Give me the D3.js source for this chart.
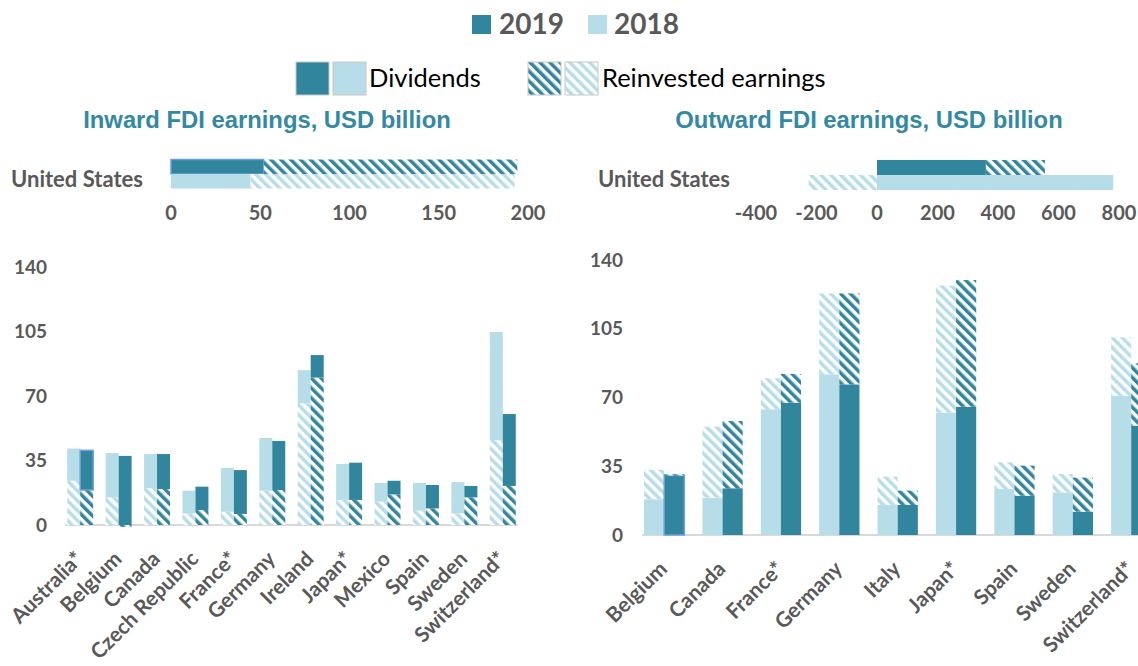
<!DOCTYPE html>
<html>
<head>
<meta charset="utf-8">
<script src="https://cdn.jsdelivr.net/npm/d3@7"></script>
<style>
    body { margin: 0; background: #fff; }
    svg { display: block; }
    .lbl { font-family: Lato, "Liberation Sans", sans-serif; font-weight: bold; fill: #595959; }
    .title { font-family: "Liberation Sans", Arial, sans-serif; font-weight: bold; fill: #3389a3; }
</style>
</head>
<body>
<div id="chart"></div>
<script>
// Données
const years = ["2018", "2019"];

const inCountries = ["Australia*", "Belgium", "Canada", "Czech Republic", "France*", "Germany",
    "Ireland", "Japan*", "Mexico", "Spain", "Sweden", "Switzerland*"];
const inDiv2018   = [17.5, 24, 18.5, 12.3, 23.7, 28.6, 18, 19.5, 10.1, 15, 17, 58.7];
const inReinv2018 = [24, 15, 20, 6.3, 7.2, 18.6, 66, 13.6, 12.7, 7.8, 6.3, 46];
const inDiv2019   = [21.5, 37.5, 19, 12.7, 23.8, 26.6, 12.2, 20.2, 7.4, 12.7, 6.2, 39];
const inReinv2019 = [19, -1, 19.5, 8.1, 6, 19, 80, 13.6, 16.6, 9, 15, 21.2];

const outCountries = ["Belgium", "Canada", "France*", "Germany", "Italy", "Japan*", "Spain",
    "Sweden", "Switzerland*"];
const outDiv2018   = [18.2, 19, 64, 81.8, 15.3, 62.3, 23.4, 21.7, 70.9];
const outReinv2018 = [15, 36.2, 15.8, 41.2, 14.4, 64.7, 13.6, 9.3, 29.7];
const outDiv2019   = [30.3, 23.8, 67.4, 76.7, 15.3, 65.3, 20, 11.9, 55.7];
const outReinv2019 = [0.6, 34.2, 14.6, 46.3, 7.3, 64.5, 15.3, 17.3, 31.7];

// United States (échelle séparée)
const usYears = ["2019", "2018"];
const usInDiv = [52, 44.5];
const usInReinv = [142, 148];
const usOutDiv = [360, 781];
const usOutReinv = [195, -226];

const columnTicks = [0, 35, 70, 105, 140];
const usInTicks = [0, 50, 100, 150, 200];
const usOutTicks = [-400, -200, 0, 200, 400, 600, 800];

// Configuration
const width = 1138;
const height = 666;
const colDark = "#31859c";
const colLight = "#b7dde8";
const selStroke = "#6a9fdc";

const svg = d3.select("#chart").append("svg")
    .attr("width", width)
    .attr("height", height);

// Motifs hachurés
const defs = svg.append("defs");
function hatch(id, color) {
    const p = defs.append("pattern")
        .attr("id", id)
        .attr("patternUnits", "userSpaceOnUse")
        .attr("width", 7).attr("height", 7)
        .attr("patternTransform", "rotate(-45)");
    p.append("rect").attr("width", 7).attr("height", 7).attr("fill", "#fff");
    p.append("rect").attr("width", 3.5).attr("height", 7).attr("fill", color);
}
hatch("hatch2019", colDark);
hatch("hatch2018", colLight);

function fillFor(year, key) {
    if (key === "div") return year === "2019" ? colDark : colLight;
    return `url(#hatch${year})`;
}

// Légende
const legend = svg.append("g");
[["2019", colDark, 472, 499], ["2018", colLight, 588, 614]].forEach(([yr, c, sx, tx]) => {
    legend.append("rect").attr("x", sx).attr("y", 15).attr("width", 19).attr("height", 19).attr("fill", c);
    legend.append("text").attr("class", "lbl").attr("x", tx).attr("y", 34)
        .style("font-size", "28px").text(yr);
});
const sw = [[296, colDark], [333, colLight], [528, "url(#hatch2019)"], [565, "url(#hatch2018)"]];
sw.forEach(([sx, f]) => {
    legend.append("rect").attr("x", sx).attr("y", 62).attr("width", 33).attr("height", 33)
        .attr("fill", f).attr("stroke", "#c8c8c8").attr("stroke-width", 1);
});
legend.append("text").attr("x", 369).attr("y", 87)
    .style("font-family", "Lato, 'Liberation Sans', sans-serif").style("font-size", "25.5px")
    .attr("fill", "#000").text("Dividends");
legend.append("text").attr("x", 602).attr("y", 87)
    .style("font-family", "Lato, 'Liberation Sans', sans-serif").style("font-size", "25.5px")
    .attr("fill", "#000").text("Reinvested earnings");

// Titres
svg.append("text").attr("class", "title").attr("x", 267).attr("y", 128)
    .attr("text-anchor", "middle").style("font-size", "23.8px").text("Inward FDI earnings, USD billion");
svg.append("text").attr("class", "title").attr("x", 869).attr("y", 128)
    .attr("text-anchor", "middle").style("font-size", "23.8px").text("Outward FDI earnings, USD billion");

// Barres horizontales United States
function drawUS(cfg) {
    const x = d3.scaleLinear().domain(cfg.domain).range(cfg.range);
    const yb = d3.scaleBand().domain(usYears).range(cfg.yRange);
    const g = svg.append("g");

    usYears.forEach((yr, i) => {
        const rows = [{ div: cfg.div[i], reinv: cfg.reinv[i] }];
        const series = d3.stack().keys(["div", "reinv"]).offset(d3.stackOffsetDiverging)(rows);
        series.forEach(s => {
            g.selectAll(null).data(s).join("rect")
                .attr("x", d => x(Math.min(d[0], d[1])))
                .attr("width", d => Math.abs(x(d[1]) - x(d[0])))
                .attr("y", yb(yr))
                .attr("height", yb.bandwidth())
                .attr("fill", fillFor(yr, s.key))
                .attr("stroke", cfg.outline && cfg.outline === yr + s.key ? selStroke : null)
                .attr("stroke-width", 1.5);
        });
    });

    g.selectAll(".tk").data(cfg.ticks).join("text")
        .attr("class", "lbl tk")
        .attr("x", d => x(d)).attr("y", cfg.tickY)
        .attr("text-anchor", "middle")
        .style("font-size", "20px")
        .text(d => d);

    g.append("text").attr("class", "lbl")
        .attr("x", cfg.labelX).attr("y", 187)
        .style("font-size", "22px")
        .text("United States");
}

drawUS({
    domain: [0, 200], range: [171, 528], yRange: [159.5, 188.5],
    div: usInDiv, reinv: usInReinv, ticks: usInTicks, tickY: 220, labelX: 11, outline: "2019div"
});
drawUS({
    domain: [-400, 800], range: [756, 1119], yRange: [160, 190],
    div: usOutDiv, reinv: usOutReinv, ticks: usOutTicks, tickY: 220, labelX: 598
});

// Colonnes empilées
function drawColumns(cfg) {
    const x0 = d3.scaleBand().domain(cfg.countries).range(cfg.xRange);
    const x1 = d3.scaleBand().domain(years).range([0, x0.bandwidth()]).paddingOuter(cfg.pad);
    const y = d3.scaleLinear().domain([0, 140]).range(cfg.yRange);
    const g = svg.append("g");

    const first = cfg.countries[0], last = cfg.countries[cfg.countries.length - 1];
    g.append("line")
        .attr("x1", x0(first) + x1("2018") - 2)
        .attr("x2", x0(last) + x1("2019") + x1.bandwidth() + 2)
        .attr("y1", y(0)).attr("y2", y(0))
        .attr("stroke", "#d9d9d9").attr("stroke-width", 2);

    years.forEach(yr => {
        const rows = cfg.countries.map((c, i) => ({
            country: c, div: cfg.div[yr][i], reinv: cfg.reinv[yr][i]
        }));
        const series = d3.stack().keys(cfg.order).offset(d3.stackOffsetDiverging)(rows);
        series.forEach(s => {
            g.selectAll(null).data(s).join("rect")
                .attr("x", d => x0(d.data.country) + x1(yr))
                .attr("width", x1.bandwidth())
                .attr("y", d => y(d[1]))
                .attr("height", d => y(d[0]) - y(d[1]))
                .attr("fill", fillFor(yr, s.key))
                .attr("stroke", d => cfg.outline === d.data.country + yr + s.key ? selStroke : null)
                .attr("stroke-width", 1.5);
        });
    });

    g.selectAll(".yt").data(columnTicks).join("text")
        .attr("class", "lbl yt")
        .attr("x", cfg.yLabelX).attr("y", d => y(d))
        .attr("dy", "0.35em")
        .attr("text-anchor", "end")
        .style("font-size", "19px")
        .text(d => d);

    g.selectAll(".xt").data(cfg.countries).join("text")
        .attr("class", "lbl xt")
        .attr("text-anchor", "end")
        .attr("transform", d => `translate(${x0(d) + x0.bandwidth() / 2 - 1},${y(0) + 30}) rotate(-45)`)
        .attr("dy", "0.35em")
        .style("font-size", "21px")
        .text(d => d);
}

drawColumns({
    countries: inCountries, xRange: [61, 522], pad: 0.48, yRange: [525, 267],
    div: { "2018": inDiv2018, "2019": inDiv2019 },
    reinv: { "2018": inReinv2018, "2019": inReinv2019 },
    order: ["reinv", "div"], yLabelX: 47, outline: "Australia*2019div"
});
drawColumns({
    countries: outCountries, xRange: [635, 1160.4], pad: 0.45, yRange: [535, 260],
    div: { "2018": outDiv2018, "2019": outDiv2019 },
    reinv: { "2018": outReinv2018, "2019": outReinv2019 },
    order: ["div", "reinv"], yLabelX: 623, outline: "Belgium2019div"
});
</script>
</body>
</html>
